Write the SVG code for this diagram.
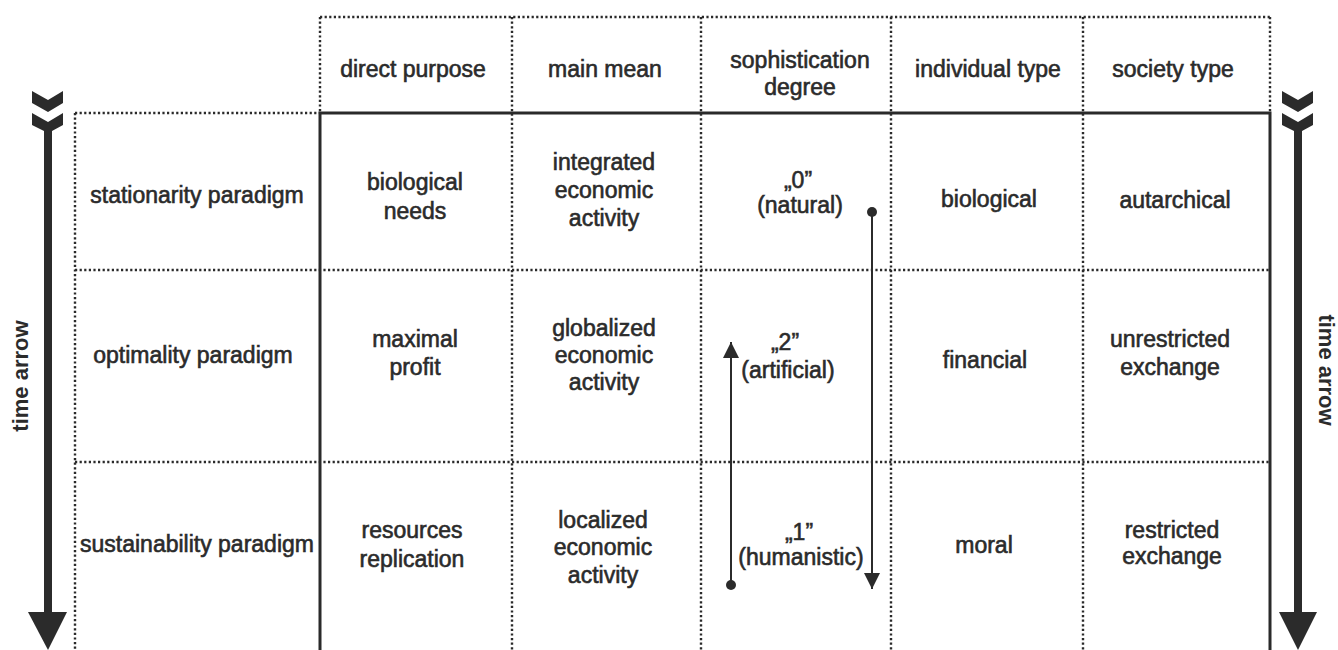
<svg xmlns="http://www.w3.org/2000/svg" width="1338" height="650" viewBox="0 0 1338 650">
<defs>
<style>
.t{font-family:"Liberation Sans",Arial,sans-serif;font-size:23px;fill:#2b2b2b;stroke:#2b2b2b;stroke-width:0.6;text-anchor:middle}
.ta{font-family:"Liberation Sans",Arial,sans-serif;font-size:22px;font-weight:bold;fill:#2b2b2b;text-anchor:middle}
.dot{stroke:#2a2a2a;stroke-width:2.4;stroke-dasharray:2.2 2.4;fill:none}
.solid{stroke:#2a2a2a;stroke-width:3;fill:none}
.conn{stroke:#2b2b2b;stroke-width:2;fill:none}
.big{fill:#2b2b2b}
</style>
<marker id="ah" markerUnits="userSpaceOnUse" markerWidth="16" markerHeight="16" viewBox="0 0 16 16" refX="16" refY="8" orient="auto">
<path d="M0,0 L16,8 L0,16 z" fill="#2b2b2b"/>
</marker>
</defs>
<rect width="1338" height="650" fill="#ffffff"/>

<g id="grid">
<path class="dot" d="M320,17 H1270 M320,17 V113 M512,17 V650 M701,17 V650 M891,17 V650 M1083,17 V650 M1270,17 V113"/>
<path class="dot" d="M75,113 H320 M75,113 V650 M75,270 H1270 M75,462 H1270"/>
<path class="solid" d="M320,650 V113 H1270 V650"/>
</g>

<g id="time-arrow-left">
<polygon class="big" points="32,91 48,100 63,91 63,103 48,112 32,103"/>
<polygon class="big" points="32,113 48,122 63,113 63,125 52,131 52,614 44,614 44,131 32,125"/>
<polygon class="big" points="28,612 67,612 48,650"/>
<text class="ta" transform="translate(28,376) rotate(-90)">time arrow</text>
</g>

<g id="time-arrow-right">
<polygon class="big" points="1282,91 1298,100 1313,91 1313,103 1298,112 1282,103"/>
<polygon class="big" points="1282,113 1298,122 1313,113 1313,125 1302,131 1302,614 1294,614 1294,131 1282,125"/>
<polygon class="big" points="1279,612 1317,612 1298,650"/>
<text class="ta" transform="translate(1319,370) rotate(90)">time arrow</text>
</g>

<g id="header-direct-purpose"><text class="t" x="413" y="77">direct purpose</text></g>
<g id="header-main-mean"><text class="t" x="605" y="77">main mean</text></g>
<g id="header-sophistication"><text class="t" x="800" y="68">sophistication</text><text class="t" x="800" y="95">degree</text></g>
<g id="header-individual-type"><text class="t" x="988" y="77">individual type</text></g>
<g id="header-society-type"><text class="t" x="1173" y="77">society type</text></g>

<g id="row-stationarity"><text class="t" x="197" y="203">stationarity paradigm</text></g>
<g id="row-optimality"><text class="t" x="193" y="363">optimality paradigm</text></g>
<g id="row-sustainability"><text class="t" x="197" y="552">sustainability paradigm</text></g>

<g id="cell-biological-needs"><text class="t" x="415" y="190">biological</text><text class="t" x="415" y="219">needs</text></g>
<g id="cell-maximal-profit"><text class="t" x="415" y="347">maximal</text><text class="t" x="415" y="375">profit</text></g>
<g id="cell-resources-replication"><text class="t" x="412" y="538">resources</text><text class="t" x="412" y="567">replication</text></g>

<g id="cell-integrated"><text class="t" x="604" y="170">integrated</text><text class="t" x="604" y="198">economic</text><text class="t" x="604" y="226">activity</text></g>
<g id="cell-globalized"><text class="t" x="604" y="336">globalized</text><text class="t" x="604" y="363">economic</text><text class="t" x="604" y="390">activity</text></g>
<g id="cell-localized"><text class="t" x="603" y="528">localized</text><text class="t" x="603" y="555">economic</text><text class="t" x="603" y="583">activity</text></g>

<g id="cell-natural"><text class="t" x="798" y="188">„0”</text><text class="t" x="800" y="213">(natural)</text></g>
<g id="cell-artificial"><text class="t" x="785" y="350">„2”</text><text class="t" x="788" y="378">(artificial)</text></g>
<g id="cell-humanistic"><text class="t" x="799" y="540">„1”</text><text class="t" x="801" y="565">(humanistic)</text></g>

<g id="cell-ind-biological"><text class="t" x="989" y="207">biological</text></g>
<g id="cell-financial"><text class="t" x="985" y="368">financial</text></g>
<g id="cell-moral"><text class="t" x="984" y="553">moral</text></g>

<g id="cell-autarchical"><text class="t" x="1175" y="208">autarchical</text></g>
<g id="cell-unrestricted"><text class="t" x="1170" y="347">unrestricted</text><text class="t" x="1170" y="375">exchange</text></g>
<g id="cell-restricted"><text class="t" x="1172" y="538">restricted</text><text class="t" x="1172" y="564">exchange</text></g>

<g id="connectors">
<circle cx="731" cy="585" r="5" fill="#2b2b2b"/>
<line class="conn" x1="731" y1="585" x2="731" y2="342" marker-end="url(#ah)"/>
<circle cx="872" cy="212" r="5" fill="#2b2b2b"/>
<line class="conn" x1="872" y1="212" x2="872" y2="589" marker-end="url(#ah)"/>
</g>
</svg>
